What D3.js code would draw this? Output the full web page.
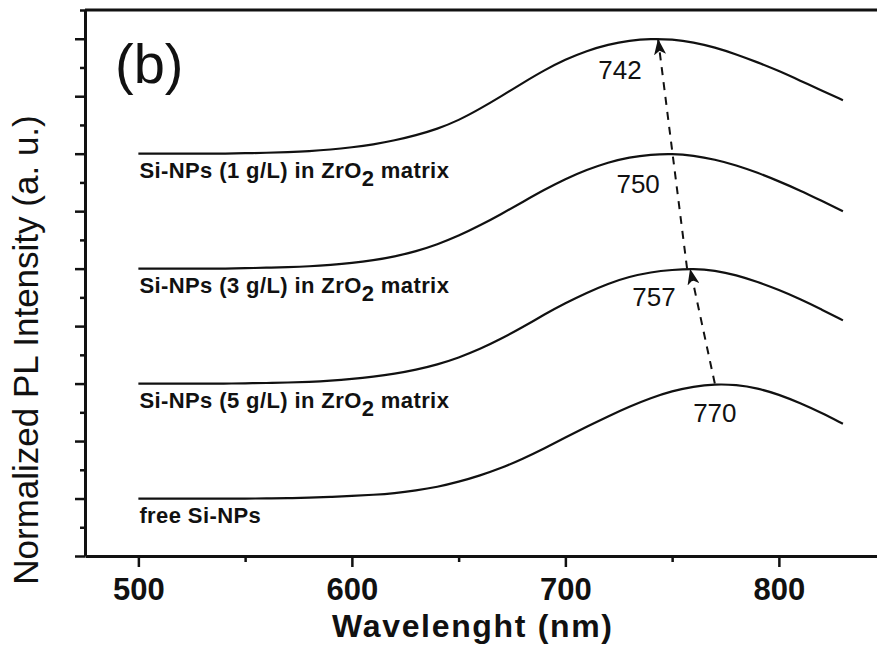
<!DOCTYPE html>
<html>
<head>
<meta charset="utf-8">
<script src="https://cdn.jsdelivr.net/npm/d3@7"></script>
<style>
  body { margin: 0; background: #fff; }
  svg { display: block; }
  .axis path, .axis line { stroke: #111; }
</style>
</head>
<body>
<div id="chart"></div>
<script>
// wavelength grid (nm) and normalized PL
var wavelengths = [500,510,520,530,540,550,560,570,580,590,600,610,620,630,640,650,660,670,680,690,700,710,720,730,740,750,760,770,780,790,800,810,820,830];
var plFree = [0,0,0,0,0,0,0,0.003,0.007,0.014,0.022,0.032,0.046,0.07,0.1,0.145,0.2,0.265,0.345,0.435,0.53,0.625,0.715,0.8,0.875,0.935,0.975,0.995,0.99,0.96,0.905,0.83,0.745,0.65];
var pl5 = [0,0,0,0,0,0.002,0.005,0.009,0.015,0.025,0.04,0.06,0.085,0.12,0.165,0.225,0.3,0.39,0.49,0.6,0.7,0.79,0.87,0.93,0.97,0.99,1,0.985,0.945,0.885,0.815,0.735,0.645,0.55];
var pl3 = [0,0,0,0,0,0.004,0.008,0.013,0.02,0.032,0.048,0.072,0.105,0.15,0.21,0.285,0.375,0.475,0.58,0.685,0.78,0.86,0.925,0.97,0.993,1,0.985,0.95,0.9,0.835,0.76,0.68,0.59,0.5];
var pl1 = [0,0,0,0,0,0.004,0.008,0.014,0.022,0.035,0.055,0.08,0.115,0.16,0.215,0.29,0.39,0.5,0.615,0.725,0.82,0.895,0.95,0.985,1,0.995,0.97,0.925,0.865,0.795,0.72,0.635,0.55,0.465];

var seriesNames = ['free Si-NPs', 'Si-NPs (5 g/L) in ZrO|2| matrix', 'Si-NPs (3 g/L) in ZrO|2| matrix', 'Si-NPs (1 g/L) in ZrO|2| matrix'];
var seriesValues = [plFree, pl5, pl3, pl1];
var offsets = [0, 1, 2, 3];
var peakNm = [770, 757, 750, 742];
var peakLabels = ['770', '757', '750', '742'];

var xMajor = [500, 600, 700, 800];
var xMinor = [550, 650, 750, 850];

var width = 877, height = 645;
var margin = {left: 85, top: 10, bottom: 89};

var svg = d3.select('#chart').append('svg').attr('width', width).attr('height', height);

var x = d3.scaleLinear().domain([475, 850]).range([margin.left, margin.left + 375 * 2.135]);
var y = d3.scaleLinear().domain([-0.5, 4.25]).range([height - margin.bottom, margin.top]);

var font = '"Liberation Sans", Arial, sans-serif';

var yMajor = d3.range(-0.5, 4.01, 0.5);
var yMinor = d3.range(-0.25, 4.26, 0.5);

// axes
var gx = svg.append('g').attr('class', 'axis').attr('transform', 'translate(0,' + y(-0.5) + ')');
gx.call(d3.axisBottom(x).tickValues(xMajor).tickSize(11).tickSizeOuter(0).tickFormat(d3.format('d')));
gx.selectAll('text').attr('y', 22).attr('dy', '0.71em')
  .style('font-family', font).style('font-size', '31px').style('font-weight', 'bold').attr('fill', '#111');
gx.append('g').call(d3.axisBottom(x).tickValues(xMinor).tickSize(6).tickFormat(''))
  .call(function(g) { g.select('.domain').remove(); });
gx.selectAll('line').attr('stroke-width', 2.5);
gx.select('.domain').attr('stroke-width', 3);

var gy = svg.append('g').attr('class', 'axis').attr('transform', 'translate(' + x(475) + ',0)');
gy.call(d3.axisLeft(y).tickValues(yMajor).tickSize(10).tickSizeOuter(0).tickFormat(''));
gy.append('g').call(d3.axisLeft(y).tickValues(yMinor).tickSize(5).tickFormat(''))
  .call(function(g) { g.select('.domain').remove(); });
gy.selectAll('line').attr('stroke-width', 2.5);
gy.select('.domain').attr('stroke-width', 3);

// top frame
svg.append('line')
  .attr('x1', x(475)).attr('x2', x(850)).attr('y1', y(4.25)).attr('y2', y(4.25))
  .attr('stroke', '#111').attr('stroke-width', 3);

// spectra
var line = d3.line().curve(d3.curveBasis);
seriesValues.forEach(function(vals, i) {
  var pts = wavelengths.map(function(w, j) { return [x(w), y(offsets[i] + vals[j])]; });
  svg.append('path').attr('d', line(pts))
    .attr('fill', 'none').attr('stroke', '#111').attr('stroke-width', 2.2);
});

// series labels with subscript
seriesNames.forEach(function(name, i) {
  var parts = name.split('|');
  var t = svg.append('text')
    .attr('x', x(500) + 1).attr('y', y(offsets[i]) + 24)
    .style('font-family', font).style('font-size', '22px').style('font-weight', 'bold')
    .style('letter-spacing', '0.4px')
    .attr('fill', '#111');
  t.append('tspan').text(parts[0]);
  if (parts.length > 1) {
    t.append('tspan').attr('dy', 8).text(parts[1]);
    t.append('tspan').attr('dy', -8).text(parts[2]);
  }
});

// peak labels
var labelDx = [0, -33, -34, -35];
var labelDy = [38, 37, 39, 40];
peakLabels.forEach(function(lab, i) {
  svg.append('text')
    .attr('x', x(peakNm[i]) + labelDx[i]).attr('y', y(offsets[i] + 1) + labelDy[i])
    .attr('text-anchor', 'middle')
    .style('font-family', font).style('font-size', '26px')
    .attr('fill', '#111').text(lab);
});

// dashed arrows between peaks
svg.append('defs').append('marker')
  .attr('id', 'head').attr('viewBox', '0 0 16 12').attr('refX', 16).attr('refY', 6)
  .attr('markerWidth', 16).attr('markerHeight', 12).attr('markerUnits', 'userSpaceOnUse')
  .attr('orient', 'auto')
  .append('path').attr('d', 'M0,0 L16,6 L0,12 L4,6 Z').attr('fill', '#111');

var arrows = [[0, 1], [1, 3]];
arrows.forEach(function(a) {
  svg.append('line')
    .attr('x1', x(peakNm[a[0]])).attr('y1', y(offsets[a[0]] + 1))
    .attr('x2', x(peakNm[a[1]]) + 3).attr('y2', y(offsets[a[1]] + 1))
    .attr('stroke', '#111').attr('stroke-width', 2)
    .attr('stroke-dasharray', '8,7')
    .attr('marker-end', 'url(#head)');
});

// titles
svg.append('text')
  .attr('x', 115).attr('y', 83)
  .style('font-family', font).style('font-size', '56px')
  .attr('fill', '#111').text('(b)');

svg.append('text')
  .attr('x', 472).attr('y', 637).attr('text-anchor', 'middle')
  .style('font-family', font).style('font-size', '32px').style('font-weight', 'bold')
  .attr('textLength', 280)
  .attr('fill', '#111').text('Wavelenght (nm)');

svg.append('text')
  .attr('transform', 'translate(38,350) rotate(-90)').attr('text-anchor', 'middle')
  .style('font-family', font).style('font-size', '35px')
  .attr('fill', '#111').text('Normalized PL Intensity (a. u.)');
</script>
</body>
</html>
